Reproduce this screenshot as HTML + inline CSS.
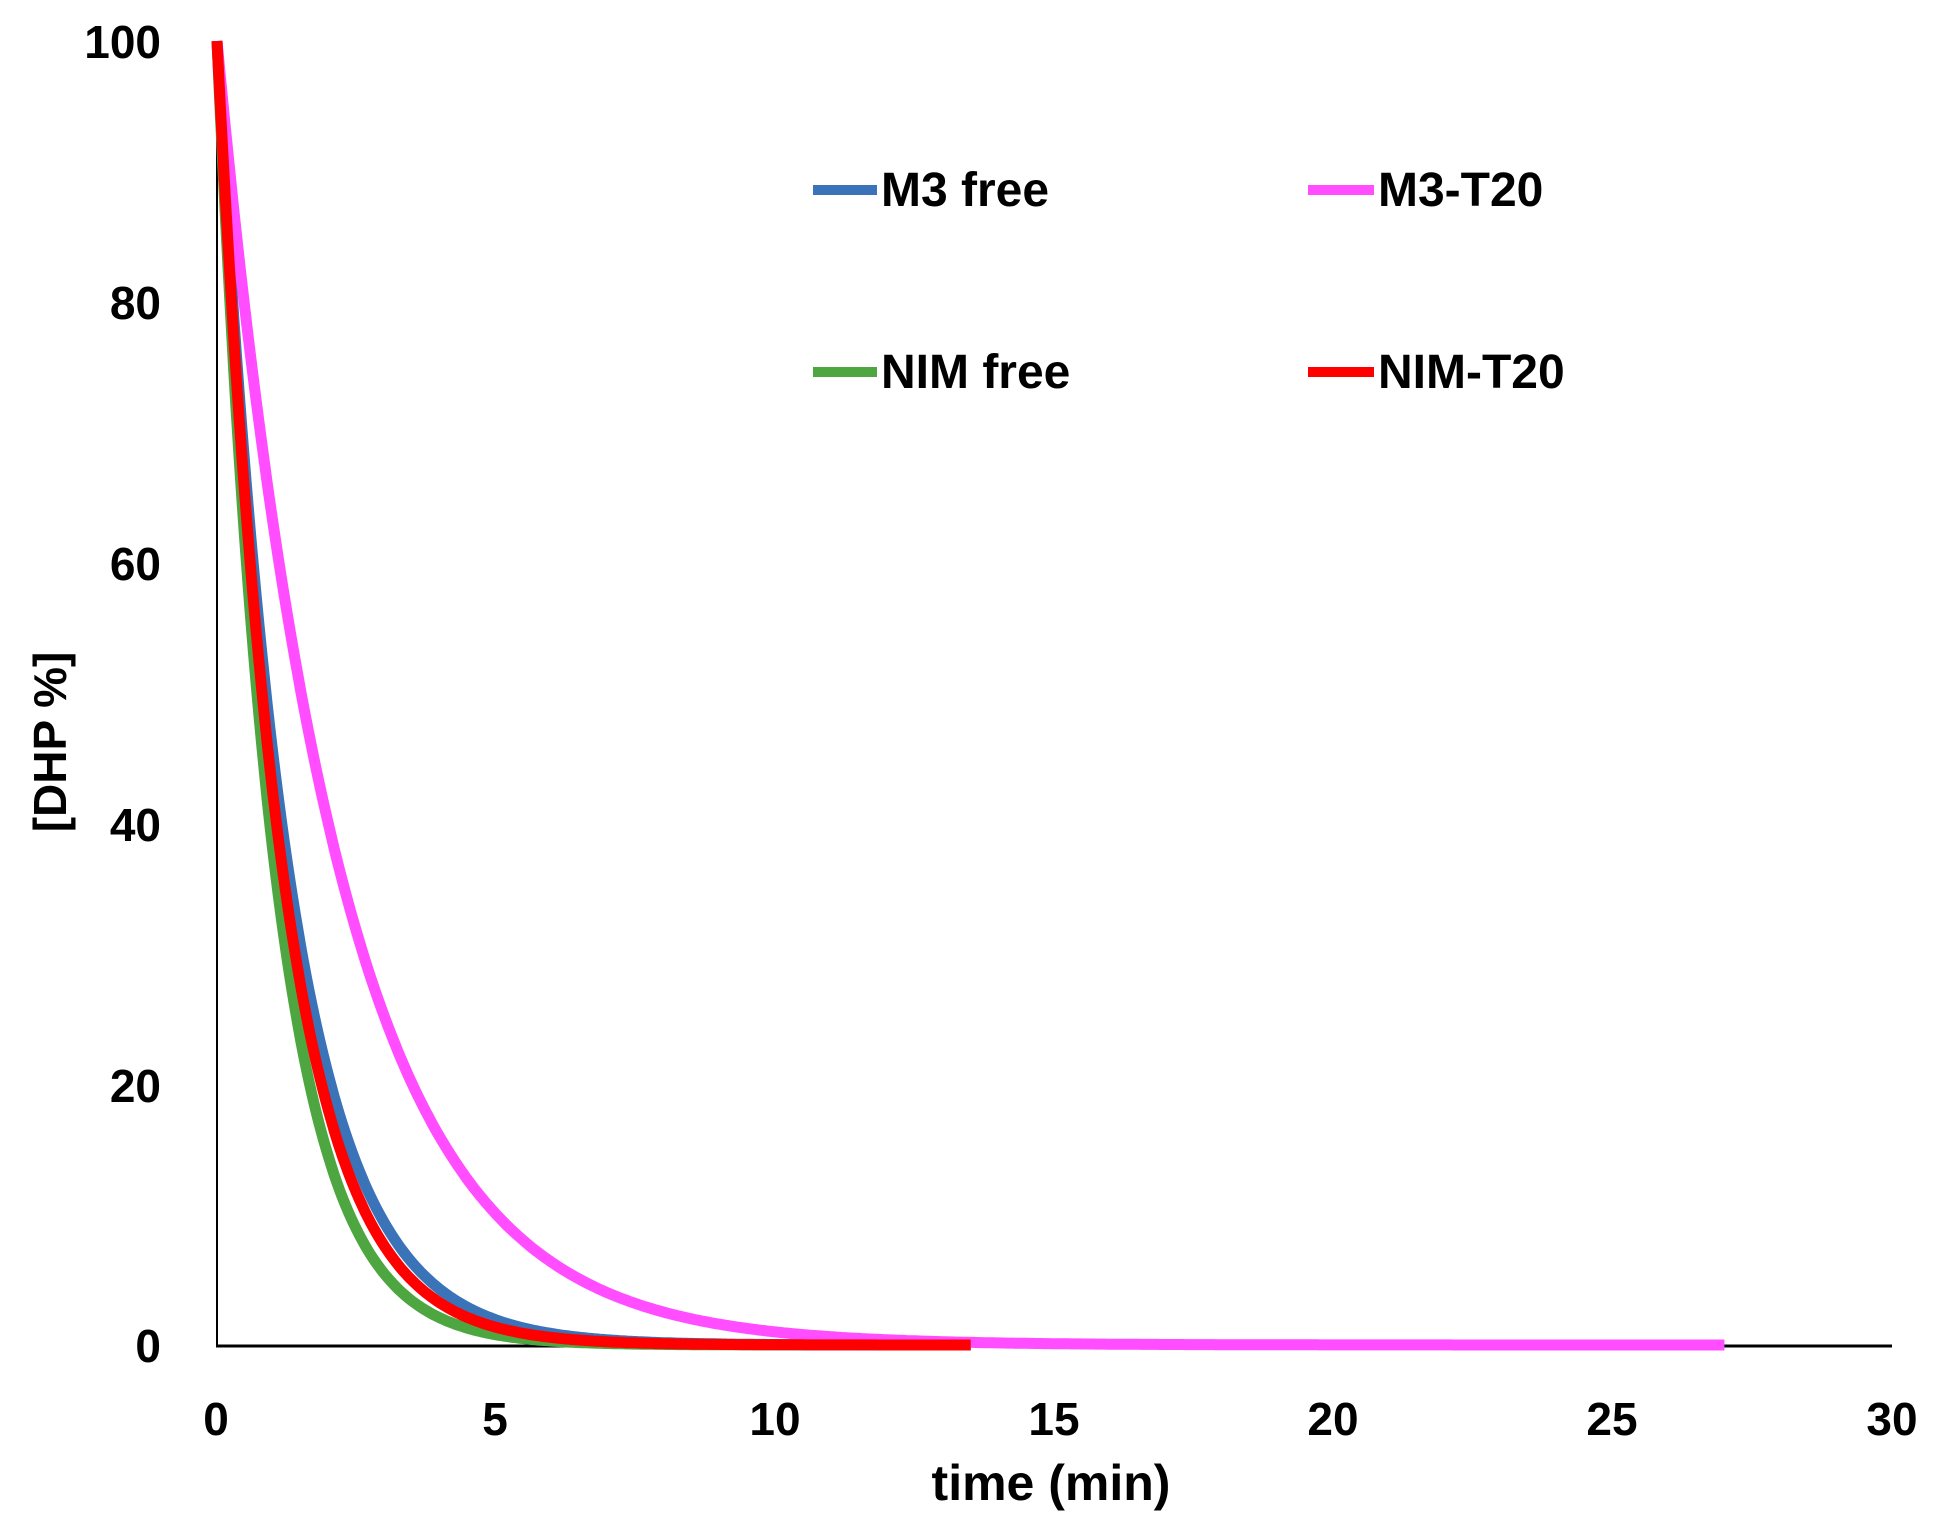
<!DOCTYPE html>
<html><head><meta charset="utf-8"><style>
html,body{margin:0;padding:0;background:#fff;}
svg text{font-family:"Liberation Sans","DejaVu Sans",sans-serif;font-weight:bold;fill:#000;}
</style></head><body>
<svg id="s" width="1938" height="1528" viewBox="0 0 1938 1528" xmlns="http://www.w3.org/2000/svg">
<line x1="217" y1="41" x2="217" y2="1346" stroke="#000" stroke-width="2"/>
<line x1="216" y1="1346" x2="1892" y2="1346" stroke="#000" stroke-width="3"/>
<g font-size="46" text-anchor="end">
<text x="161" y="58">100</text><text x="161" y="319">80</text><text x="161" y="580">60</text>
<text x="161" y="841">40</text><text x="161" y="1102">20</text><text x="161" y="1362">0</text>
</g>
<g font-size="46" text-anchor="middle">
<text x="216" y="1435">0</text><text x="495" y="1435">5</text><text x="775" y="1435">10</text>
<text x="1054" y="1435">15</text><text x="1333" y="1435">20</text><text x="1612" y="1435">25</text><text x="1892" y="1435">30</text>
<text x="1051" y="1500" font-size="50">time (min)</text>
<text transform="translate(66,742) rotate(-90)" font-size="46">[DHP %]</text>
</g>
<g id="curves" fill="none" stroke-width="11" stroke-linejoin="round"></g>
<g stroke-width="10">
<line x1="813" y1="190" x2="877" y2="190" stroke="#3b73b9"/>
<line x1="1308" y1="190" x2="1374" y2="190" stroke="#ff4dff"/>
<line x1="813" y1="372" x2="877" y2="372" stroke="#4ea640"/>
<line x1="1308" y1="372" x2="1374" y2="372" stroke="#ff0000"/>
</g>
<g font-size="48">
<text x="881" y="206">M3 free</text><text x="1378" y="206">M3-T20</text>
<text x="881" y="388">NIM free</text><text x="1378" y="388">NIM-T20</text>
</g>
</svg>
<script>
var X=function(t){return 217+t*55.83},Y=function(v){return 1345-v*13.04};
var series=[["#4ea640",0.97,13.5],["#3b73b9",0.79,13.5],["#ff4dff",0.46,27],["#ff0000",0.86,13.5]];
var g=document.getElementById('curves');
series.forEach(function(s){var d="";for(var t=0;t<=s[2]+1e-9;t+=0.05){d+=(d?"L":"M")+X(t).toFixed(1)+","+Y(100*Math.exp(-s[1]*t)).toFixed(1);}
var p=document.createElementNS("http://www.w3.org/2000/svg","path");p.setAttribute("d",d);p.setAttribute("stroke",s[0]);g.appendChild(p);});
</script>
</body></html>
